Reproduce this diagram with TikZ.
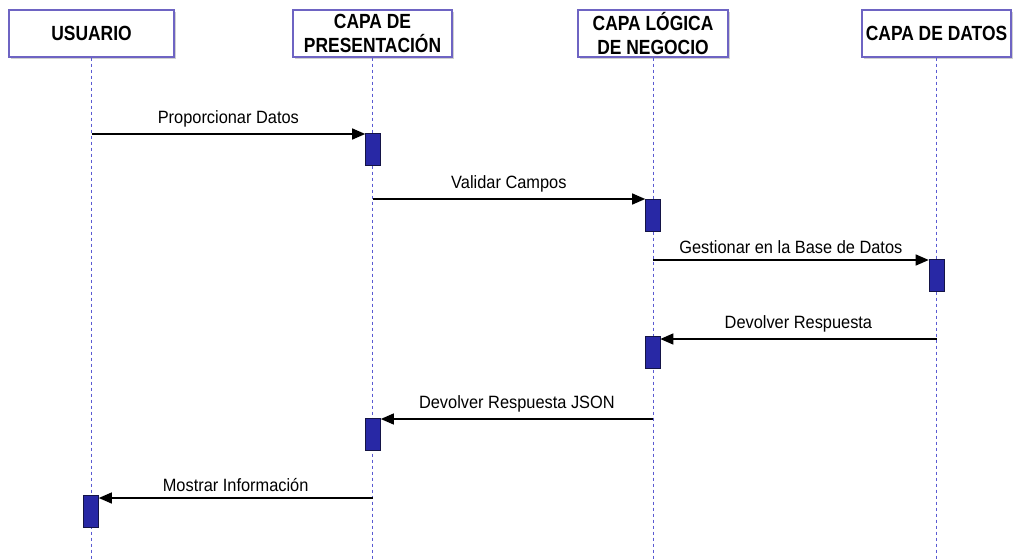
\documentclass[tikz,border=0pt]{standalone}
\usepackage{fontspec}
\setmainfont{Liberation Sans}[FakeStretch=0.92]
\newfontfamily\hdrfont{Liberation Sans}[FakeStretch=0.85]
\usetikzlibrary{arrows.meta,shadows}
\definecolor{hdrline}{RGB}{110,100,195}
\definecolor{lifecol}{RGB}{90,90,210}
\definecolor{actfill}{RGB}{40,40,165}
\definecolor{actline}{RGB}{20,20,70}
\tikzset{
  hdr/.style={draw=hdrline, line width=1.1pt, fill=white, inner sep=0pt, minimum height=47pt,
    align=center, font=\hdrfont\bfseries\fontsize{20.5}{23.5}\selectfont,
    drop shadow={shadow xshift=1.5pt, shadow yshift=-1.8pt, opacity=0.3, fill=black!60}},
  lifeline/.style={draw=lifecol, line width=0.8pt, dash pattern=on 3pt off 3pt},
  actbox/.style={draw=actline, fill=actfill, line width=0.6pt, minimum width=15pt, minimum height=32pt, inner sep=0pt},
  msg/.style={draw=black, line width=1.3pt, -{Triangle[length=13pt,width=11pt]}},
  lbl/.style={font=\fontsize{17.8}{20}\selectfont, inner sep=0pt, above=6pt}
}
\begin{document}
\begin{tikzpicture}[x=1pt,y=-1pt]
\useasboundingbox (0,0) rectangle (1016,559);
\fill[white] (0,0) rectangle (1016,559);
% headers
\node[hdr, minimum width=165pt] (usr) at (91.5,33.5) {USUARIO};
\node[hdr, minimum width=159pt] (pre) at (372.5,33.5) {CAPA DE\\PRESENTACIÓN};
\node[hdr, minimum width=150pt] (log) at (653,33.5) {CAPA LÓGICA\\DE NEGOCIO};
\node[hdr, minimum width=149pt] (dat) at (936.5,33.5) {CAPA DE DATOS};
% lifeline ends
\coordinate (usrEnd) at (91.5,559);
\coordinate (preEnd) at (372.5,559);
\coordinate (logEnd) at (653,559);
\coordinate (datEnd) at (936.5,559);
\draw[lifeline] (usr.south) -- (usrEnd);
\draw[lifeline] (pre.south) -- (preEnd);
\draw[lifeline] (log.south) -- (logEnd);
\draw[lifeline] (dat.south) -- (datEnd);
% activations
\node[actbox] (a1) at (373,149.5) {};
\node[actbox] (a2) at (653,215) {};
\node[actbox] (a3) at (936.5,275.5) {};
\node[actbox] (a4) at (652.5,352.5) {};
\node[actbox] (a5) at (373,434) {};
\node[actbox] (a6) at (91,511) {};
% message tails
\coordinate (m1) at (91.5,134);
\coordinate (m2) at (372.5,199);
\coordinate (m3) at (653,260);
\coordinate (m4) at (936.5,339);
\coordinate (m5) at (653,419);
\coordinate (m6) at (372.5,498);
% messages
\draw[msg] (m1) -- (a1.west |- m1) node[lbl, midway] (l1) {Proporcionar Datos};
\draw[msg] (m2) -- (a2.west |- m2) node[lbl, midway] (l2) {Validar Campos};
\draw[msg] (m3) -- (a3.west |- m3) node[lbl, midway] (l3) {Gestionar en la Base de Datos};
\draw[msg] (m4) -- (a4.east |- m4) node[lbl, midway] (l4) {Devolver Respuesta};
\draw[msg] (m5) -- (a5.east |- m5) node[lbl, midway] (l5) {Devolver Respuesta JSON};
\draw[msg] (m6) -- (a6.east |- m6) node[lbl, midway] (l6) {Mostrar Información};
\end{tikzpicture}
\end{document}
